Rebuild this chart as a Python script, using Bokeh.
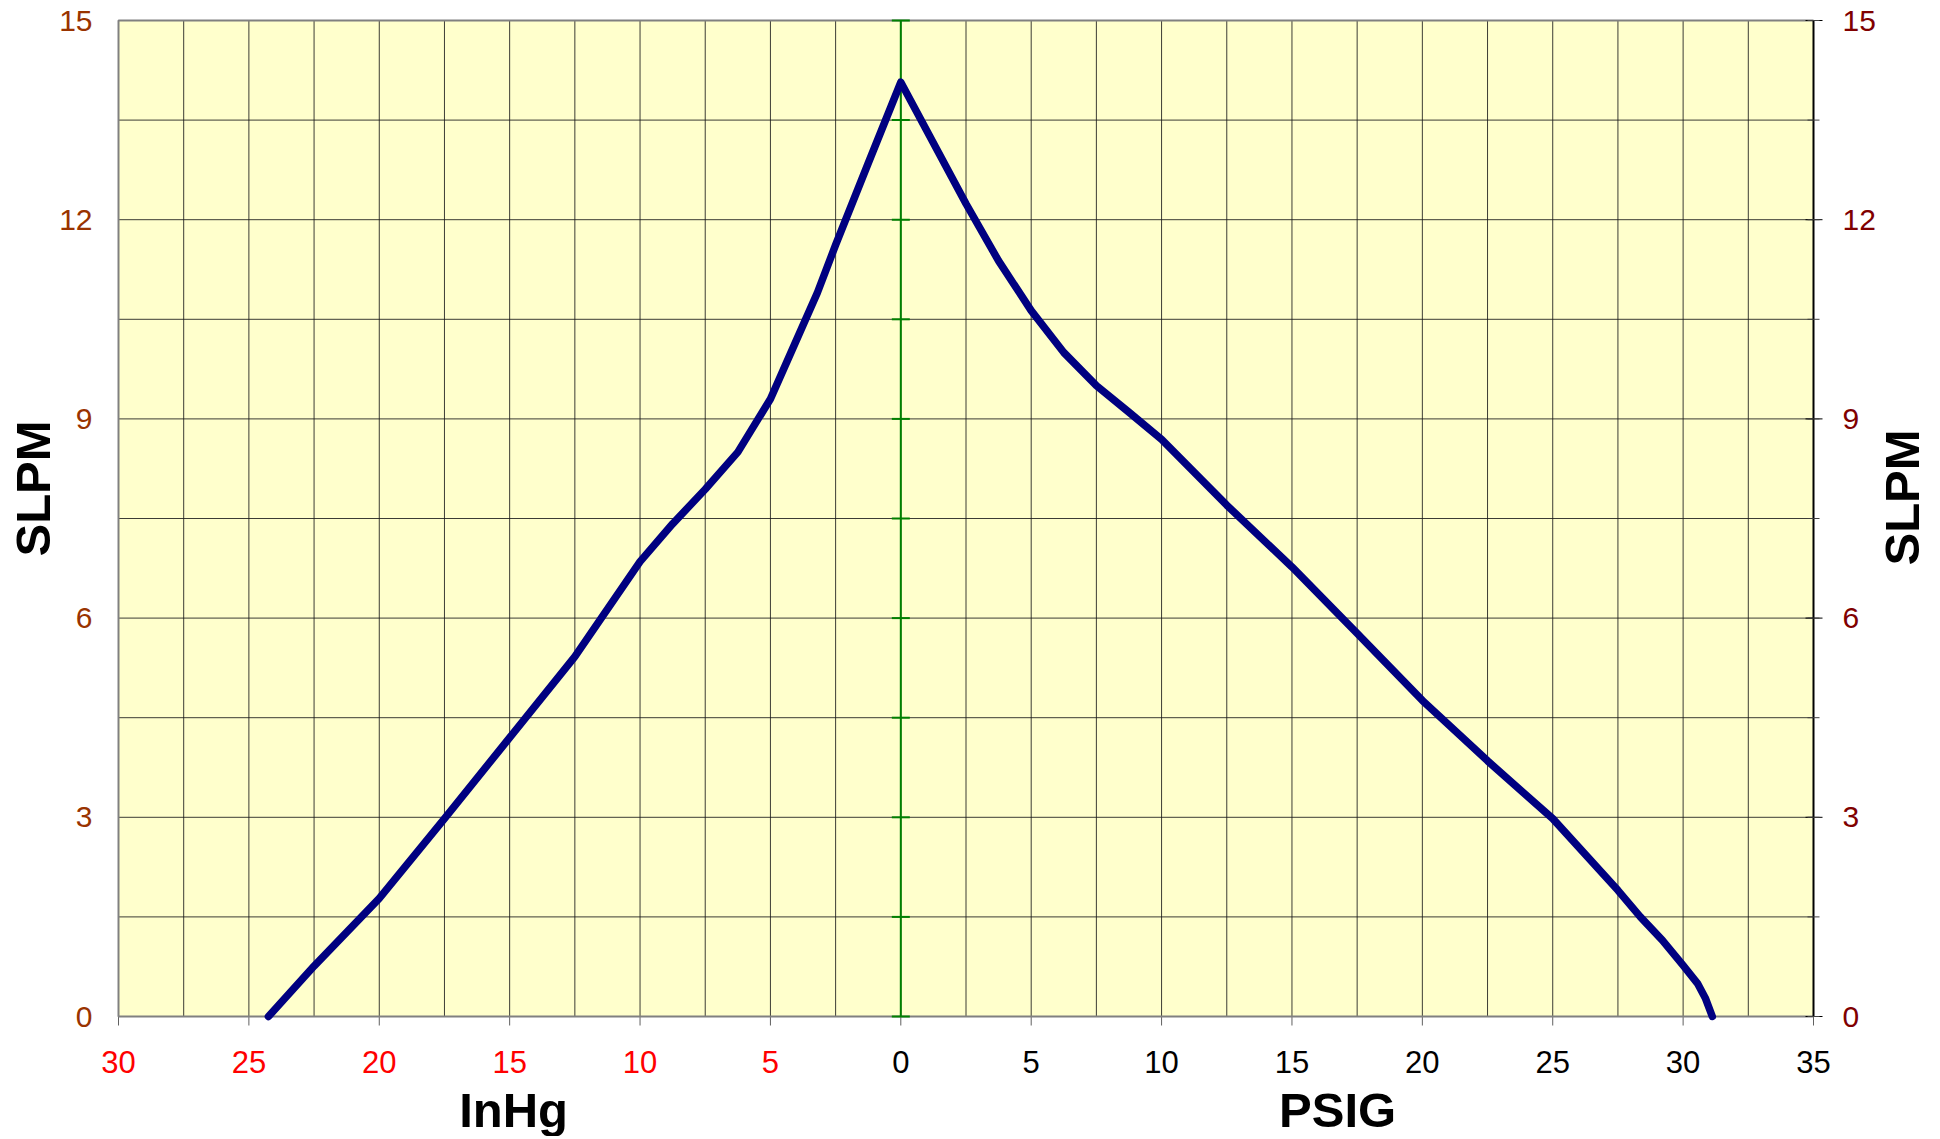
import math
from bokeh.plotting import figure
from bokeh.models import Range1d, ColumnDataSource
from bokeh.core.properties import value
from bokeh.embed import file_html
from bokeh.resources import INLINE

# ---- data ----
pressure = [-24.25, -22.5, -20.0, -17.5, -15.0, -12.5, -10.0, -8.75, -7.5, -6.25, -5.0,
            -4.1, -3.2, -2.5, -1.25, 0.0, 2.5, 3.75, 5.0, 6.25, 7.5, 8.75, 10.0, 12.5,
            15.0, 17.5, 20.0, 22.5, 25.0, 27.5, 28.36, 29.2, 30.0, 30.55, 30.85, 31.12]
flow = [0.0, 0.76, 1.78, 2.98, 4.2, 5.42, 6.85, 7.42, 7.94, 8.5, 9.3,
        10.1, 10.9, 11.62, 12.85, 14.07, 12.24, 11.38, 10.63, 10.0, 9.5, 9.1, 8.69, 7.7,
        6.77, 5.77, 4.76, 3.85, 2.98, 1.9, 1.5, 1.15, 0.77, 0.5, 0.28, 0.0]

x_range_vals = [-30, 35]
y_range_vals = [0, 15]
x_ticks = [-30, -25, -20, -15, -10, -5, 0, 5, 10, 15, 20, 25, 30, 35]
x_tick_labels = ["30", "25", "20", "15", "10", "5", "0", "5", "10", "15", "20", "25", "30", "35"]
x_grid = [-27.5, -25, -22.5, -20, -17.5, -15, -12.5, -10, -7.5, -5, -2.5, 0,
          2.5, 5, 7.5, 10, 12.5, 15, 17.5, 20, 22.5, 25, 27.5, 30, 32.5]
y_ticks = [0, 3, 6, 9, 12, 15]
y_tick_labels = ["0", "3", "6", "9", "12", "15"]
y_grid = [1.5, 3, 4.5, 6, 7.5, 9, 10.5, 12, 13.5]
y_minor = [0, 1.5, 3, 4.5, 6, 7.5, 9, 10.5, 12, 13.5, 15]
x_titles = ["InHg", "PSIG"]
x_title_pos = [-14.85, 16.75]
y_title = "SLPM"

FONT = "Liberation Sans"
W, H = 1940, 1136
LEFT, RIGHT, TOP, BOTTOM = 118, 1813, 20, 1016   # plot area in page pixels

X0, X1 = x_range_vals
Y0, Y1 = y_range_vals
kx = (RIGHT - LEFT) / (X1 - X0)     # px per x unit
ky = (BOTTOM - TOP) / (Y1 - Y0)     # px per y unit


def dx(px):   # page pixel column -> data x
    return X0 + (px - LEFT) / kx


def dy(py):   # page pixel row -> data y
    return Y0 + (BOTTOM - py) / ky


p = figure(width=W, height=H, x_range=Range1d(dx(0), dx(W)), y_range=Range1d(dy(H), dy(0)),
           output_backend="svg", toolbar_location=None,
           min_border_left=0, min_border_right=0, min_border_top=0, min_border_bottom=0)
p.axis.visible = False
p.grid.visible = False
p.outline_line_color = None
p.background_fill_color = "white"
p.border_fill_color = "white"

# plot area
p.quad(left=[X0], right=[X1], bottom=[Y0], top=[Y1], fill_color="#FFFFCC", line_color=None)

# grid
p.segment(x0=x_grid, y0=[Y0] * len(x_grid), x1=x_grid, y1=[Y1] * len(x_grid),
          line_color="#1a1a1a", line_width=1, line_alpha=0.85)
p.segment(x0=[X0] * len(y_grid), y0=y_grid, x1=[X1] * len(y_grid), y1=y_grid,
          line_color="#1a1a1a", line_width=1, line_alpha=0.85)

# bottom axis ticks
p.segment(x0=x_ticks, y0=[Y0] * len(x_ticks), x1=x_ticks, y1=[dy(BOTTOM + 9)] * len(x_ticks),
          line_color="#606060", line_width=1)

# frame: gray left/top/bottom, black right
p.line(x=[X1, X0, X0, X1], y=[Y1, Y1, Y0, Y0], line_color="#808080", line_width=2)
p.line(x=[X1, X1], y=[Y0, Y1], line_color="black", line_width=2)

# right axis ticks (crossing)
p.segment(x0=[dx(RIGHT - 8)] * len(y_ticks), y0=y_ticks, x1=[dx(RIGHT + 9)] * len(y_ticks), y1=y_ticks,
          line_color="black", line_width=1)
p.segment(x0=[dx(RIGHT - 6)] * len(y_minor), y0=y_minor, x1=[dx(RIGHT + 6)] * len(y_minor), y1=y_minor,
          line_color="#404040", line_width=1)

# green zero axis with crossing tick marks
p.line(x=[0, 0], y=[Y0, Y1], line_color="#008000", line_width=2)
p.scatter(x=[0] * len(y_minor), y=y_minor, marker="dash", size=18,
          line_color="#008000", line_width=2)

# curve
p.line(x=pressure, y=flow, line_color="#000080", line_width=7.5,
       line_join="round", line_cap="round")

# y tick labels
p.text(x=[dx(LEFT - 26)] * len(y_ticks), y=y_ticks, text=y_tick_labels,
       text_align="right", text_baseline="middle", text_color="#993300",
       text_font=value(FONT), text_font_size="30px")
p.text(x=[dx(RIGHT + 29)] * len(y_ticks), y=y_ticks, text=y_tick_labels,
       text_align="left", text_baseline="middle", text_color="#800000",
       text_font=value(FONT), text_font_size="30px")

# x tick labels (InHg side in red, PSIG side in black)
colors = ["#FF0000" if t < 0 else "black" for t in x_ticks]
src = ColumnDataSource(dict(x=x_ticks, y=[dy(1061)] * len(x_ticks), text=x_tick_labels, color=colors))
p.text(x="x", y="y", text="text", source=src, text_color="color",
       text_align="center", text_baseline="middle",
       text_font=value(FONT), text_font_size="31px")

# axis titles
p.text(x=x_title_pos, y=[dy(1109)] * 2, text=x_titles, text_color="black",
       text_align="center", text_baseline="middle",
       text_font=value(FONT), text_font_size="49px", text_font_style="bold")
p.text(x=[dx(32), dx(1901)], y=[dy(488), dy(497)], text=[y_title, y_title], angle=math.pi / 2,
       text_color="black", text_align="center", text_baseline="middle",
       text_font=value(FONT), text_font_size="49px", text_font_style="bold")

open("out.html", "w").write(file_html(p, INLINE))
